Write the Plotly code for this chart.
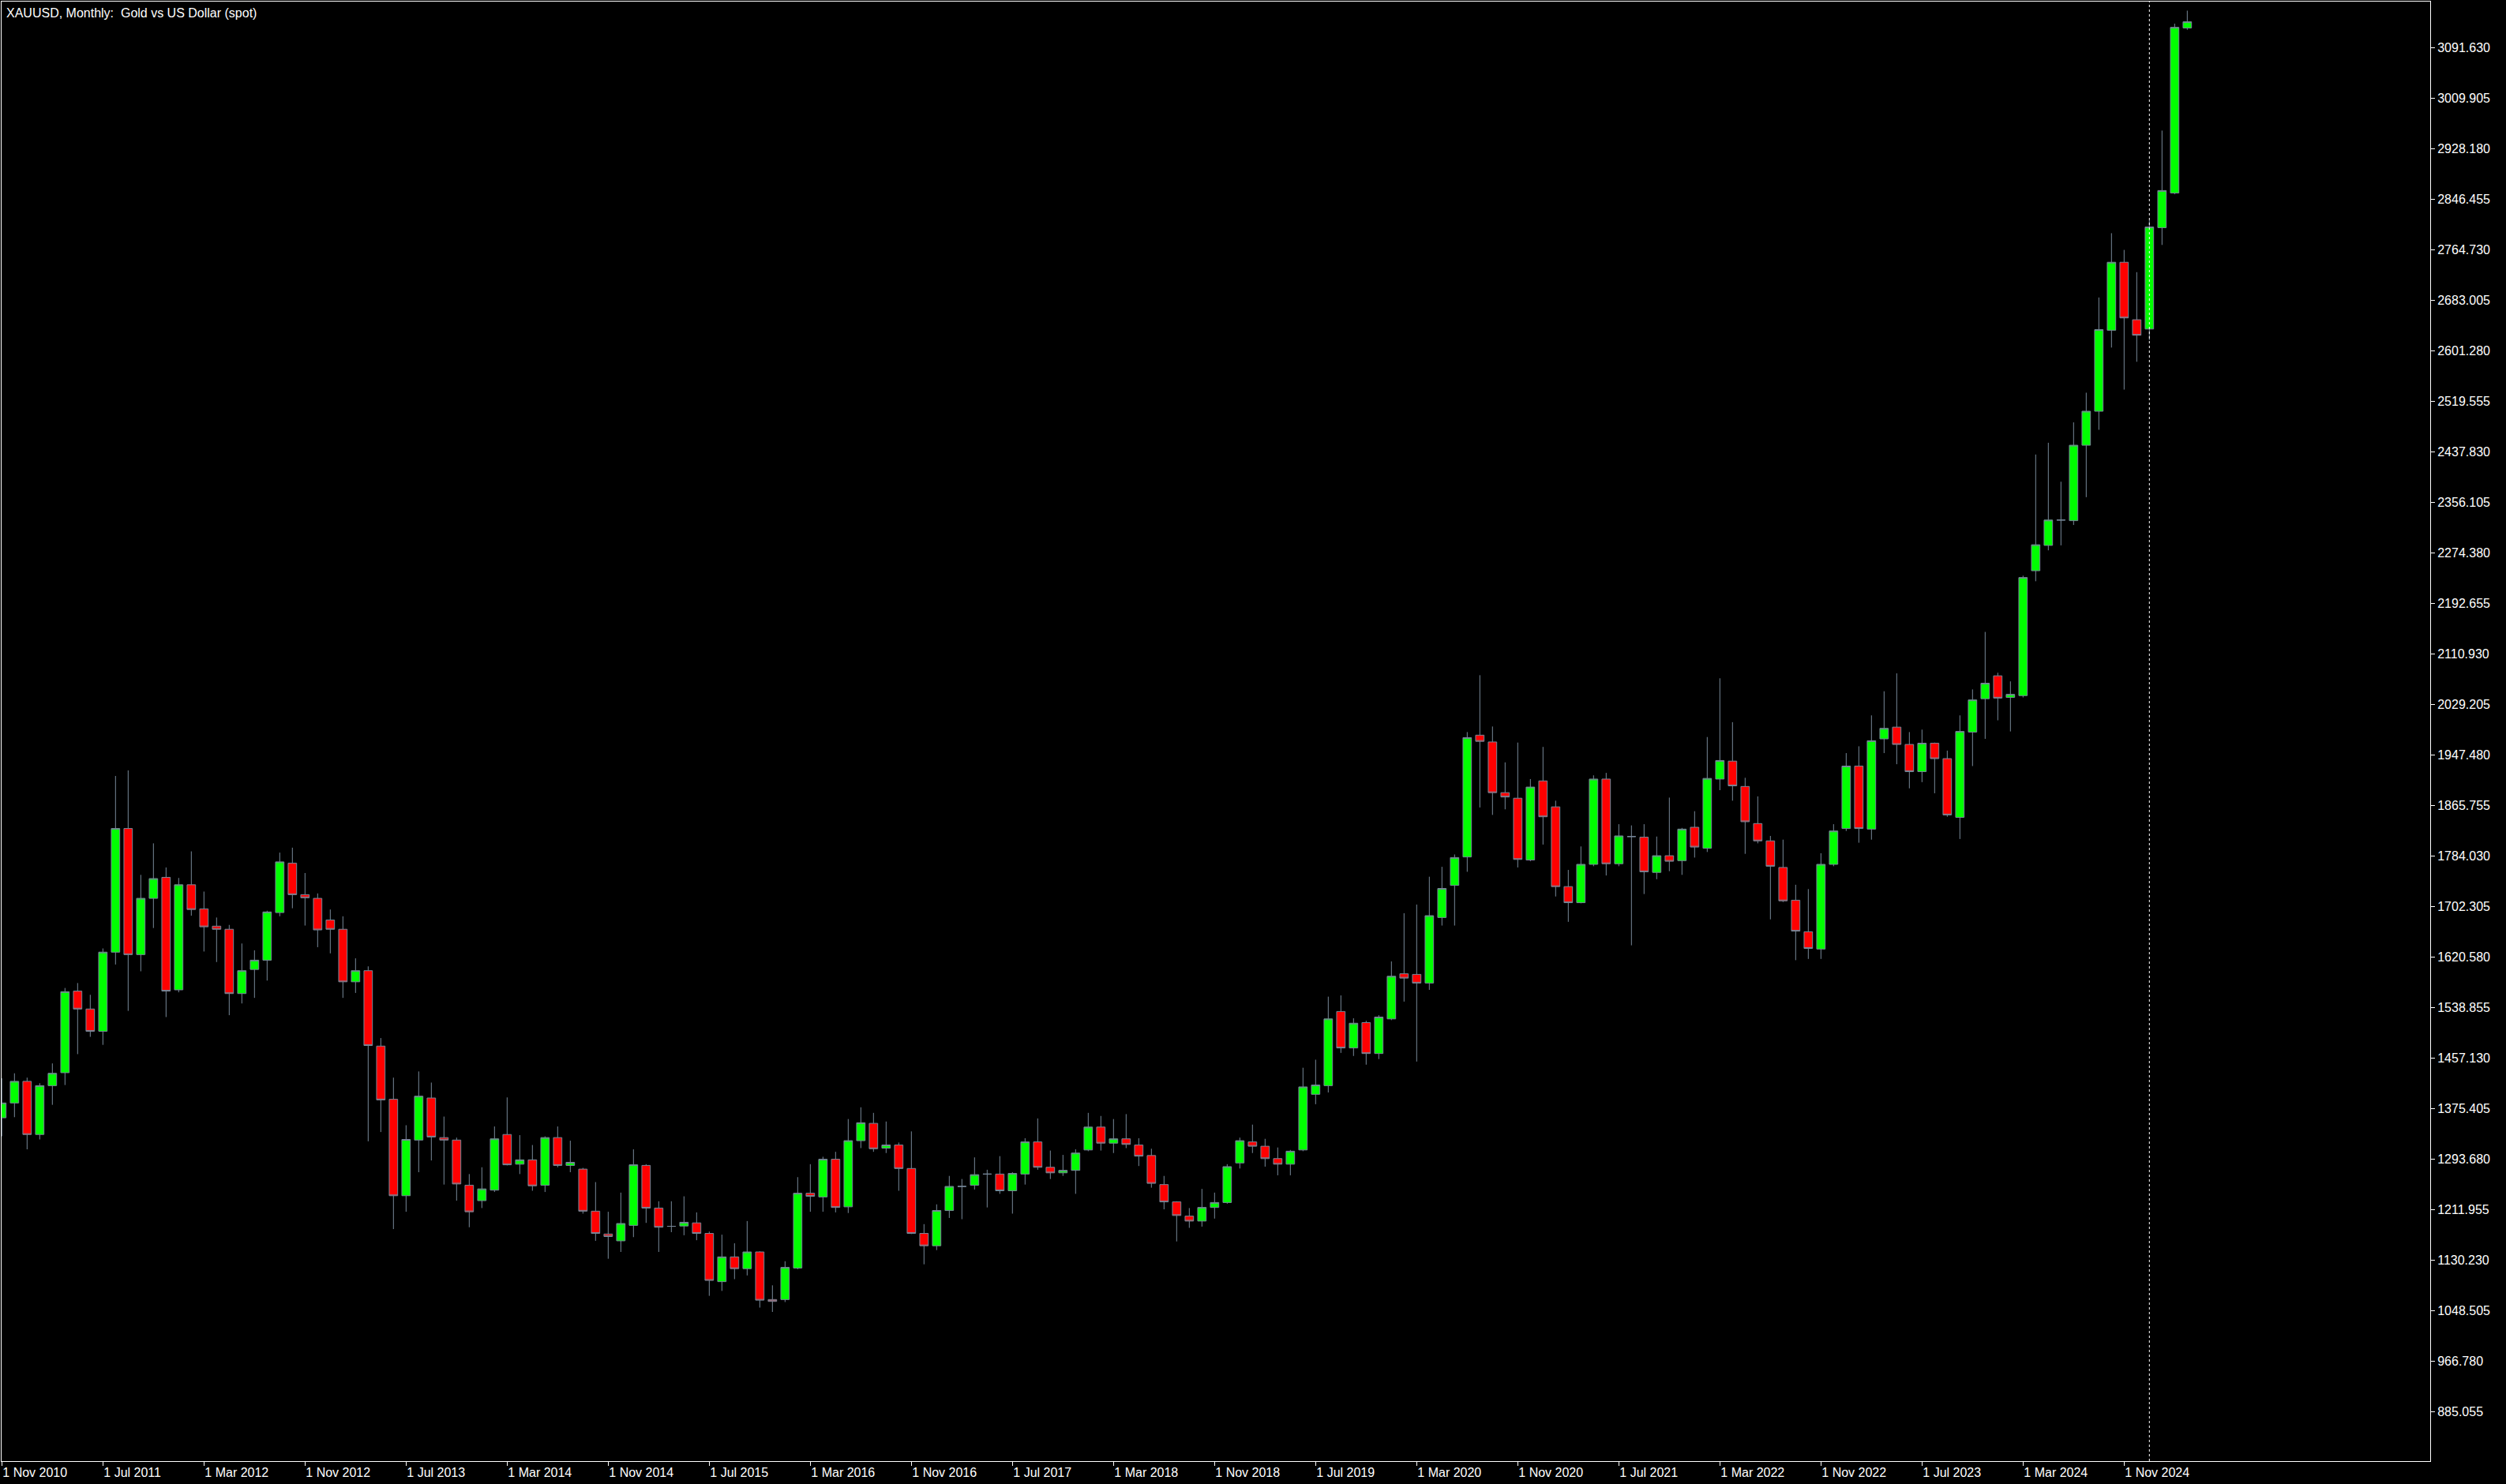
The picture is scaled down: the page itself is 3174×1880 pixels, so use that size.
import plotly.graph_objects as go

# Monthly XAUUSD candles, Nov 2010 .. Apr 2025 (174 bars)
opens = [
    1360, 1384, 1419, 1333, 1412, 1433, 1565, 1536, 1500, 1628,
    1828, 1624, 1715, 1749, 1567, 1737, 1698, 1670, 1665, 1561,
    1600, 1615, 1692, 1772, 1721, 1715, 1680, 1665, 1580, 1598,
    1476, 1390, 1234, 1324, 1392, 1328, 1324, 1251, 1226, 1243,
    1333, 1285, 1292, 1251, 1328, 1283, 1277, 1209, 1172, 1161,
    1186, 1283, 1214, 1184.5, 1185, 1190, 1173, 1095, 1135, 1116,
    1143, 1066, 1066, 1117, 1238, 1232, 1293, 1216, 1323, 1351,
    1311, 1316, 1278, 1173, 1153, 1210, 1249, 1251, 1269, 1269,
    1242, 1269, 1321, 1280, 1271, 1275, 1308, 1345, 1319, 1326,
    1316, 1299, 1252, 1224, 1201, 1193, 1215, 1223, 1287, 1321,
    1314, 1294, 1285, 1308, 1398, 1412, 1532, 1473, 1514, 1464,
    1520, 1593, 1592, 1578, 1684, 1736, 1782, 1979, 1968, 1886,
    1877, 1777, 1905, 1863, 1734, 1708, 1770, 1908, 1771, 1815,
    1814, 1757, 1784, 1776, 1830, 1796, 1908, 1937, 1896, 1836,
    1808, 1765, 1712, 1661, 1633, 1770, 1828, 1929, 1827, 1973,
    1992, 1964, 1920, 1966, 1941, 1846, 1984, 2038, 2075, 2040,
    2043, 2245, 2286, 2327, 2326, 2448, 2503, 2634, 2744, 2651,
    2636, 2800, 2856, 3123,
]
highs = [
    1424, 1432, 1425, 1416, 1448, 1570, 1578, 1559, 1634, 1913,
    1922, 1753, 1804, 1765, 1748, 1791, 1726, 1684, 1672, 1642,
    1631, 1695, 1789, 1797, 1756, 1723, 1697, 1686, 1618, 1605,
    1489, 1425, 1348, 1435, 1417, 1362, 1328, 1269, 1280, 1346,
    1393, 1332, 1316, 1330, 1346, 1323, 1279, 1256, 1208, 1239,
    1309, 1285, 1225, 1225, 1233, 1207, 1176, 1171, 1157, 1193,
    1144, 1089, 1128, 1264, 1285, 1297, 1305, 1358, 1377, 1368,
    1354, 1320, 1338, 1188, 1220, 1266, 1261, 1296, 1276, 1298,
    1272, 1327, 1359, 1307, 1300, 1309, 1368, 1363, 1358, 1366,
    1327, 1310, 1266, 1225, 1214, 1245, 1239, 1285, 1328, 1349,
    1326, 1312, 1308, 1441, 1454, 1556, 1558, 1521, 1517, 1526,
    1613, 1691, 1705, 1750, 1766, 1786, 1984, 2076, 1993, 1935,
    1967, 1908, 1960, 1873, 1761, 1799, 1914, 1918, 1835, 1833,
    1835, 1815, 1878, 1829, 1856, 1976, 2071, 2000, 1910, 1880,
    1816, 1810, 1737, 1730, 1788, 1835, 1950, 1961, 2011, 2050,
    2079, 1984, 1988, 1967, 1954, 2011, 2053, 2146, 2080, 2066,
    2237, 2433, 2452, 2389, 2485, 2533, 2687, 2791, 2764, 2728,
    2812, 2957, 3130, 3151,
]
lows = [
    1330, 1361, 1309, 1325, 1381, 1413, 1463, 1491, 1478, 1608,
    1533, 1597, 1667, 1523, 1563, 1687, 1629, 1612, 1526, 1545,
    1554, 1582, 1686, 1699, 1671, 1636, 1626, 1554, 1562, 1322,
    1337, 1180, 1208, 1272, 1291, 1252, 1226, 1183, 1214, 1240,
    1283, 1269, 1242, 1240, 1280, 1272, 1205, 1161, 1132, 1143,
    1167, 1190, 1143, 1175, 1170, 1162, 1072, 1080, 1099, 1105,
    1053, 1046, 1062, 1115, 1208, 1208, 1207, 1206, 1311, 1305,
    1303, 1242, 1172, 1123, 1146, 1198, 1196, 1244, 1215, 1237,
    1205, 1252, 1276, 1261, 1266, 1237, 1306, 1307, 1303, 1311,
    1282, 1247, 1212, 1160, 1182, 1184, 1197, 1221, 1278, 1303,
    1281, 1267, 1267, 1306, 1382, 1401, 1465, 1460, 1446, 1455,
    1518, 1548, 1451, 1567, 1671, 1671, 1758, 1862, 1850, 1859,
    1765, 1775, 1802, 1718, 1677, 1707, 1767, 1752, 1767, 1639,
    1722, 1746, 1759, 1753, 1781, 1790, 1890, 1873, 1787, 1804,
    1681, 1709, 1615, 1617, 1617, 1767, 1824, 1805, 1810, 1950,
    1932, 1893, 1903, 1885, 1847, 1811, 1929, 1973, 2003, 1985,
    2040, 2228, 2278, 2286, 2319, 2364, 2473, 2606, 2538, 2583,
    2618, 2772, 2854, 3120,
]
closes = [
    1384, 1419, 1333, 1412, 1432, 1564, 1536, 1500, 1628, 1828,
    1624, 1715, 1747, 1565, 1737, 1697, 1669, 1665, 1561, 1598,
    1615, 1693, 1774, 1721, 1716, 1664, 1665, 1580, 1598, 1477,
    1389, 1234, 1325, 1395, 1329, 1324, 1253, 1208, 1245, 1326,
    1284, 1292, 1250, 1328, 1283, 1288, 1209, 1173, 1168, 1189,
    1284, 1214, 1183, 1184.5, 1191, 1173, 1097, 1135, 1116, 1143,
    1065, 1063, 1118, 1238, 1233, 1293, 1215, 1323, 1352, 1310,
    1316, 1278, 1173, 1153, 1210, 1249, 1249, 1268, 1269, 1242,
    1270, 1321, 1280, 1271, 1275, 1303, 1345, 1319, 1326, 1317,
    1298, 1254, 1224, 1202, 1193, 1215, 1223, 1281, 1323, 1314,
    1294, 1285, 1306, 1410, 1413, 1520, 1473, 1513, 1464, 1523,
    1589, 1586, 1578, 1687, 1731, 1781, 1975, 1969, 1886, 1879,
    1778, 1895, 1847, 1734, 1708, 1770, 1908, 1771, 1816, 1815,
    1758, 1784, 1775, 1827, 1798, 1909, 1938, 1897, 1839, 1808,
    1767, 1711, 1662, 1634, 1770, 1824, 1929, 1828, 1970, 1990,
    1964, 1920, 1966, 1941, 1850, 1985, 2036, 2063, 2039, 2045,
    2234, 2287, 2327, 2327, 2448, 2503, 2635, 2744, 2654, 2626,
    2801, 2860, 3124, 3133,
]

# bar index of each time label (every 8 months from Nov 2010)
date_tick_pos = [0, 8, 16, 24, 32, 40, 48, 56, 64, 72, 80, 88, 96, 104,
                 112, 120, 128, 136, 144, 152, 160, 168]
date_tick_text = [
    "1 Nov 2010", "1 Jul 2011", "1 Mar 2012", "1 Nov 2012", "1 Jul 2013",
    "1 Mar 2014", "1 Nov 2014", "1 Jul 2015", "1 Mar 2016", "1 Nov 2016",
    "1 Jul 2017", "1 Mar 2018", "1 Nov 2018", "1 Jul 2019", "1 Mar 2020",
    "1 Nov 2020", "1 Jul 2021", "1 Mar 2022", "1 Nov 2022", "1 Jul 2023",
    "1 Mar 2024", "1 Nov 2024",
]
price_ticks = [
    885.055, 966.780, 1048.505, 1130.230, 1211.955, 1293.680, 1375.405,
    1457.130, 1538.855, 1620.580, 1702.305, 1784.030, 1865.755, 1947.480,
    2029.205, 2110.930, 2192.655, 2274.380, 2356.105, 2437.830, 2519.555,
    2601.280, 2683.005, 2764.730, 2846.455, 2928.180, 3009.905, 3091.630,
]
price_tick_text = ["%.3f" % v for v in price_ticks]
separator_bar = 170  # Jan 2025 period separator
title_text = "XAUUSD, Monthly:\u00a0\u00a0Gold vs US Dollar (spot)"

bars = list(range(len(opens)))

FONT = "Liberation Sans, Arial, sans-serif"
WICK = "#778899"

fig = go.Figure(go.Candlestick(
    x=bars, open=opens, high=highs, low=lows, close=closes,
    increasing=dict(fillcolor="#00FF00", line=dict(color=WICK, width=1)),
    decreasing=dict(fillcolor="#FF0000", line=dict(color=WICK, width=1)),
    whiskerwidth=0,
    showlegend=False,
    hoverinfo="skip",
))

fig.add_shape(type="line", xref="x", yref="paper", x0=separator_bar, x1=separator_bar,
              y0=0, y1=1, line=dict(color="#FFFFFF", width=1, dash="3px,3px"))

fig.add_annotation(text=title_text, xref="paper", yref="paper", x=0, y=1,
                   xanchor="left", yanchor="top", xshift=4, yshift=-4,
                   showarrow=False, font=dict(family=FONT, size=16, color="#FFFFFF"))

fig.update_layout(
    width=3174, height=1880,
    margin=dict(l=2, r=96, t=2, b=29),
    paper_bgcolor="#000000", plot_bgcolor="#000000",
    boxgap=0.33, boxgroupgap=0,
    font=dict(family=FONT, size=16, color="#FFFFFF"),
    xaxis=dict(
        range=[-0.02, 192.23], rangeslider=dict(visible=False),
        tickmode="array", tickvals=date_tick_pos, ticktext=date_tick_text,
        ticks="outside", ticklen=5, tickcolor="#FFFFFF", tickwidth=1,
        ticklabelposition="outside right",
        showgrid=False, zeroline=False,
        showline=True, linecolor="#FFFFFF", linewidth=1, mirror=True,
        tickfont=dict(family=FONT, size=16, color="#FFFFFF"),
        fixedrange=True,
    ),
    yaxis=dict(
        range=[804.66, 3165.69], side="right",
        tickmode="array", tickvals=price_ticks, ticktext=price_tick_text,
        ticks="outside", ticklen=5, tickcolor="#FFFFFF", tickwidth=1,
        showgrid=False, zeroline=False,
        showline=True, linecolor="#FFFFFF", linewidth=1, mirror=True,
        tickfont=dict(family=FONT, size=16, color="#FFFFFF"),
        fixedrange=True,
    ),
)

fig.write_html("out.html", config={"displayModeBar": False},
               post_script="document.body.style.margin='0';document.body.style.overflow='hidden';")
